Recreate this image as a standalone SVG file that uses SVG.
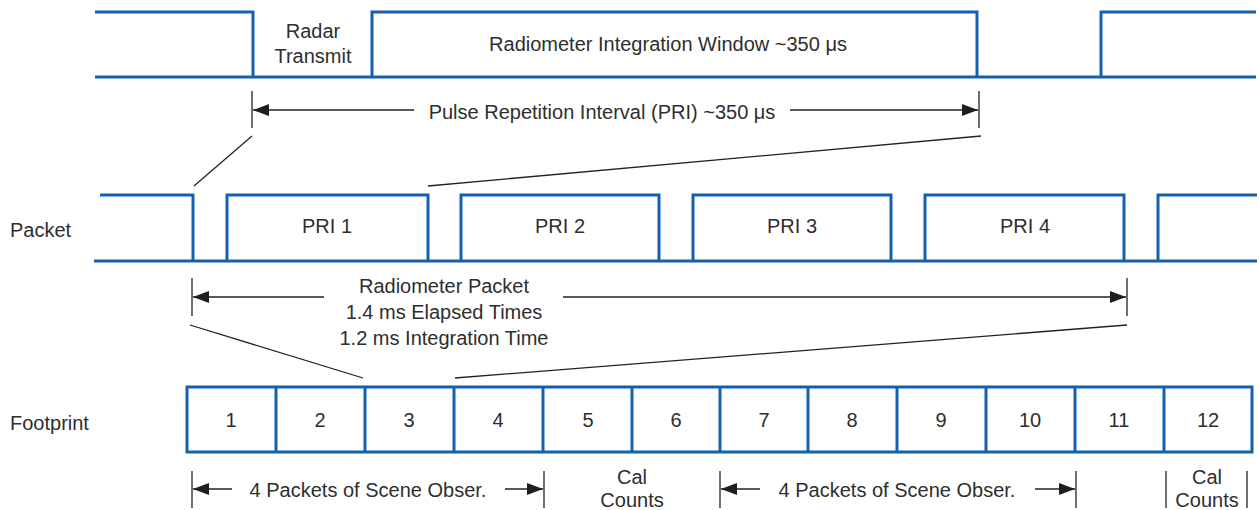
<svg xmlns="http://www.w3.org/2000/svg" width="1259" height="510" viewBox="0 0 1259 510">
<defs>
<style>
.wave{fill:none;stroke:#1462ae;stroke-width:3;stroke-linejoin:miter}
.cell{fill:#ffffff;stroke:#1462ae;stroke-width:3}
.ln{fill:none;stroke:#222;stroke-width:1.3}
.t{font-family:"Liberation Sans",Arial,sans-serif;font-size:20px;fill:#2e2e2e;text-anchor:middle}
.lbl{font-family:"Liberation Sans",Arial,sans-serif;font-size:20px;fill:#2e2e2e}
</style>
<marker id="ah" markerUnits="userSpaceOnUse" markerWidth="16" markerHeight="12" refX="16" refY="6" orient="auto">
<path d="M0,0 L16,6 L0,12 Z" fill="#1e1e1e"/>
</marker>
</defs>
<rect width="1259" height="510" fill="#ffffff"/>

<g id="radar-wave">
<path class="wave" d="M95,77 H1256"/>
<path class="wave" d="M95,12 H253 V77"/>
<path class="wave" d="M372,77 V12 H977 V77"/>
<path class="wave" d="M1101,77 V12 H1256"/>
<text class="t" x="313" y="38">Radar</text>
<text class="t" x="313" y="63">Transmit</text>
<text class="t" x="668" y="51">Radiometer Integration Window ~350 μs</text>
</g>

<g id="packet-row">
<text class="lbl" x="10" y="237">Packet</text>
<path class="wave" d="M94,261 H1257"/>
<path class="wave" d="M100,195 H193 V261"/>
<path class="wave" d="M1158,261 V195 H1257"/>
</g>
<g id="pri1"><path class="wave" d="M227,261 V195 H428 V261"/><text class="t" x="327" y="233">PRI 1</text></g>
<g id="pri2"><path class="wave" d="M461,261 V195 H659 V261"/><text class="t" x="560" y="233">PRI 2</text></g>
<g id="pri3"><path class="wave" d="M693,261 V195 H891 V261"/><text class="t" x="792" y="233">PRI 3</text></g>
<g id="pri4"><path class="wave" d="M925,261 V195 H1124 V261"/><text class="t" x="1025" y="233">PRI 4</text></g>

<g id="footprint">
<text class="lbl" x="10" y="430">Footprint</text>
<rect class="cell" x="187" y="387" width="1065" height="65"/>
<path class="wave" d="M276,387 V452 M365,387 V452 M454,387 V452 M543,387 V452 M632,387 V452 M720,387 V452 M808,387 V452 M897,387 V452 M986,387 V452 M1075,387 V452 M1164,387 V452"/>
<g class="t">
<text x="231" y="427">1</text>
<text x="320" y="427">2</text>
<text x="409" y="427">3</text>
<text x="498" y="427">4</text>
<text x="588" y="427">5</text>
<text x="676" y="427">6</text>
<text x="764" y="427">7</text>
<text x="852" y="427">8</text>
<text x="941" y="427">9</text>
<text x="1030" y="427">10</text>
<text x="1119" y="427">11</text>
<text x="1208" y="427">12</text>
</g>
</g>

<g id="connectors">
<!-- PRI dimension -->
<path class="ln" d="M252,91 V128 M979,91 V128"/>
<line class="ln" x1="414" y1="110" x2="253" y2="110" marker-end="url(#ah)"/>
<line class="ln" x1="790" y1="110" x2="978" y2="110" marker-end="url(#ah)"/>
<text class="t" x="602" y="119">Pulse Repetition Interval (PRI) ~350 μs</text>
<!-- zoom lines top -->
<line class="ln" x1="252" y1="136" x2="194" y2="186"/>
<line class="ln" x1="981" y1="136" x2="428" y2="186"/>
<!-- radiometer packet dimension -->
<path class="ln" d="M192,278 V316 M1127,278 V316"/>
<line class="ln" x1="324" y1="297" x2="193" y2="297" marker-end="url(#ah)"/>
<line class="ln" x1="563" y1="297" x2="1126" y2="297" marker-end="url(#ah)"/>
<text class="t" x="444" y="293">Radiometer Packet</text>
<text class="t" x="444" y="319">1.4 ms Elapsed Times</text>
<text class="t" x="444" y="345">1.2 ms Integration Time</text>
<!-- zoom lines bottom -->
<line class="ln" x1="190" y1="325" x2="363" y2="378"/>
<line class="ln" x1="1127" y1="325" x2="455" y2="378"/>
<!-- footprint annotations -->
<path class="ln" d="M192,471 V508 M544,471 V508 M720,471 V508 M1076,471 V508 M1166,471 V508 M1247,471 V508"/>
<line class="ln" x1="232" y1="489" x2="193" y2="489" marker-end="url(#ah)"/>
<line class="ln" x1="505" y1="489" x2="543" y2="489" marker-end="url(#ah)"/>
<line class="ln" x1="760" y1="489" x2="721" y2="489" marker-end="url(#ah)"/>
<line class="ln" x1="1035" y1="489" x2="1075" y2="489" marker-end="url(#ah)"/>
<text class="t" x="368" y="497">4 Packets of Scene Obser.</text>
<text class="t" x="897" y="497">4 Packets of Scene Obser.</text>
<text class="t" x="632" y="484">Cal</text>
<text class="t" x="632" y="507">Counts</text>
<text class="t" x="1207" y="484">Cal</text>
<text class="t" x="1207" y="507">Counts</text>
</g>
</svg>
